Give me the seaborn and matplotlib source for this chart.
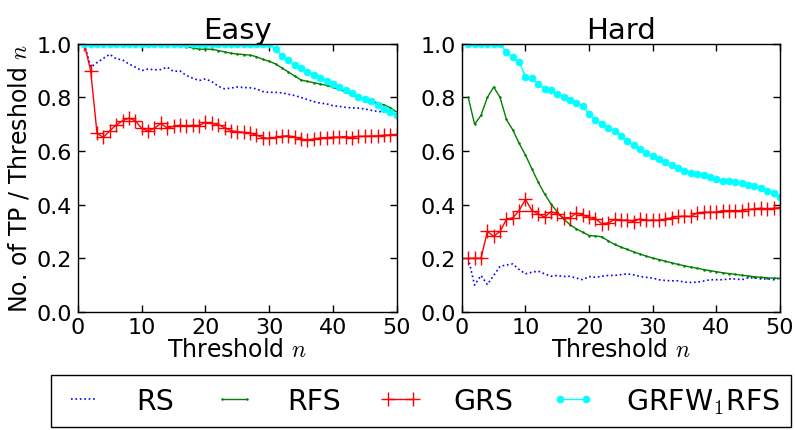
import numpy as np
import pandas as pd
import seaborn as sns
import matplotlib
matplotlib.use("Agg")
import matplotlib.pyplot as plt

# Threshold values n = 1..50
thresholds = list(range(1, 51))

# ---- Easy queries ----
easy_rs = [1.0, 0.913, 0.93, 0.946, 0.961, 0.944, 0.94, 0.925, 0.913, 0.90,
           0.906, 0.903, 0.904, 0.913, 0.897, 0.899, 0.882, 0.872, 0.863, 0.869,
           0.859, 0.842, 0.832, 0.835, 0.839, 0.837, 0.836, 0.832, 0.822, 0.819,
           0.819, 0.817, 0.812, 0.807, 0.80, 0.792, 0.784, 0.779, 0.776, 0.769,
           0.767, 0.763, 0.761, 0.76, 0.757, 0.752, 0.748, 0.746, 0.745, 0.743]
easy_rfs = [1.0, 1.0, 1.0, 1.0, 1.0, 1.0, 1.0, 1.0, 1.0, 1.0,
            1.0, 1.0, 1.0, 1.0, 1.0, 1.0, 0.99, 0.985, 0.98, 0.98,
            0.98, 0.975, 0.97, 0.965, 0.962, 0.96, 0.958, 0.952, 0.942, 0.935,
            0.925, 0.91, 0.895, 0.88, 0.865, 0.86, 0.855, 0.85, 0.845, 0.838,
            0.83, 0.82, 0.81, 0.80, 0.793, 0.786, 0.78, 0.772, 0.762, 0.745]
easy_grs = [1.0, 0.90, 0.666, 0.651, 0.676, 0.697, 0.713, 0.723, 0.713, 0.685,
            0.675, 0.685, 0.703, 0.686, 0.692, 0.696, 0.692, 0.696, 0.695, 0.707,
            0.703, 0.699, 0.687, 0.676, 0.672, 0.670, 0.667, 0.660, 0.650, 0.647,
            0.651, 0.655, 0.657, 0.652, 0.645, 0.641, 0.645, 0.649, 0.650, 0.652,
            0.652, 0.654, 0.650, 0.655, 0.655, 0.656, 0.657, 0.659, 0.660, 0.662]
easy_grfw = [1.0, 1.0, 1.0, 1.0, 1.0, 1.0, 1.0, 1.0, 1.0, 1.0,
             1.0, 1.0, 1.0, 1.0, 1.0, 1.0, 1.0, 1.0, 1.0, 1.0,
             1.0, 1.0, 1.0, 1.0, 1.0, 1.0, 1.0, 1.0, 1.0, 1.0,
             0.979, 0.956, 0.938, 0.921, 0.909, 0.896, 0.884, 0.872, 0.863, 0.851,
             0.838, 0.828, 0.816, 0.803, 0.795, 0.785, 0.772, 0.757, 0.745, 0.735]

# ---- Hard queries ----
hard_rs = [0.2, 0.10, 0.136, 0.102, 0.136, 0.17, 0.175, 0.179, 0.158, 0.142,
           0.148, 0.152, 0.142, 0.133, 0.136, 0.132, 0.133, 0.126, 0.12, 0.132,
           0.129, 0.133, 0.136, 0.136, 0.139, 0.142, 0.138, 0.132, 0.129, 0.126,
           0.12, 0.117, 0.116, 0.116, 0.111, 0.11, 0.111, 0.115, 0.12, 0.12,
           0.12, 0.123, 0.123, 0.12, 0.127, 0.127, 0.123, 0.123, 0.12, 0.126]
hard_rfs = [0.80, 0.70, 0.733, 0.80, 0.839, 0.80, 0.718, 0.679, 0.629, 0.585,
            0.534, 0.484, 0.44, 0.403, 0.372, 0.347, 0.325, 0.31, 0.297, 0.285,
            0.283, 0.28, 0.265, 0.252, 0.242, 0.233, 0.224, 0.216, 0.208, 0.201,
            0.195, 0.189, 0.183, 0.177, 0.172, 0.167, 0.163, 0.158, 0.154, 0.150,
            0.146, 0.143, 0.140, 0.137, 0.134, 0.131, 0.129, 0.127, 0.126, 0.125]
hard_grs = [0.2, 0.2, 0.2, 0.3, 0.282, 0.3, 0.345, 0.351, 0.378, 0.42,
            0.378, 0.366, 0.353, 0.374, 0.366, 0.351, 0.351, 0.369, 0.362, 0.353,
            0.347, 0.329, 0.332, 0.345, 0.341, 0.343, 0.337, 0.347, 0.341, 0.343,
            0.341, 0.347, 0.351, 0.356, 0.357, 0.356, 0.369, 0.372, 0.372, 0.372,
            0.378, 0.378, 0.378, 0.378, 0.382, 0.384, 0.387, 0.384, 0.387, 0.389]
hard_grfw = [1.0, 1.0, 1.0, 1.0, 1.0, 1.0, 0.969, 0.95, 0.931, 0.878,
             0.872, 0.851, 0.832, 0.828, 0.813, 0.801, 0.789, 0.780, 0.767, 0.739,
             0.717, 0.701, 0.686, 0.676, 0.657, 0.639, 0.623, 0.608, 0.593, 0.582,
             0.570, 0.558, 0.547, 0.538, 0.527, 0.518, 0.514, 0.511, 0.503, 0.496,
             0.490, 0.487, 0.484, 0.481, 0.475, 0.471, 0.461, 0.452, 0.442, 0.430]

method_labels = ["RS", "RFS", "GRS", r"GRFW$_1$RFS"]
panel_titles = ["Easy", "Hard"]
x_ticks = [0, 10, 20, 30, 40, 50]
y_ticks = [0.0, 0.2, 0.4, 0.6, 0.8, 1.0]

sns.set_style("ticks", {"xtick.direction": "in", "ytick.direction": "in"})
plt.rcParams.update({
    "font.family": ["DejaVu Sans"],
    "mathtext.fontset": "cm",
    "xtick.top": True,
    "ytick.right": True,
    "xtick.major.size": 5,
    "ytick.major.size": 5,
    "axes.linewidth": 1.0,
    "axes.edgecolor": "black",
    "text.color": "black",
    "axes.labelcolor": "black",
    "xtick.color": "black",
    "ytick.color": "black",
})

styles = [
    dict(color="b", linestyle=":", linewidth=1.2),
    dict(color="g", linestyle="-", linewidth=1.0, marker=".", markersize=2,
         markeredgecolor="g"),
    dict(color="r", linestyle="-", linewidth=1.0, marker="+", markersize=10,
         markeredgecolor="r", markeredgewidth=1.0),
    dict(color="cyan", linestyle="-", linewidth=1.0, marker="o", markersize=5,
         markeredgecolor="cyan", markeredgewidth=0.5),
]

fig = plt.figure(figsize=(7.95, 4.31), dpi=100)
ax_easy = fig.add_axes([0.098, 0.274, 0.401, 0.622])
ax_hard = fig.add_axes([0.581, 0.274, 0.400, 0.622])

panels = [
    (ax_easy, [easy_rs, easy_rfs, easy_grs, easy_grfw]),
    (ax_hard, [hard_rs, hard_rfs, hard_grs, hard_grfw]),
]

for (ax, series), title in zip(panels, panel_titles):
    for vals, lab, st in zip(series, method_labels, styles):
        df = pd.DataFrame({"n": thresholds, "v": vals})
        sns.lineplot(data=df, x="n", y="v", ax=ax, label=lab, **st)
    ax.set_xlim(0, 50)
    ax.set_ylim(0, 1.0)
    ax.set_xticks(x_ticks)
    ax.set_yticks(y_ticks)
    ax.set_yticklabels([f"{t:.1f}" for t in y_ticks])
    ax.tick_params(labelsize=16, width=1, pad=4)
    ax.set_title(title, fontsize=21, pad=4)
    ax.set_xlabel(r"Threshold $n$", fontsize=17, labelpad=0)
    ax.set_ylabel("")
    handles, labels = ax.get_legend_handles_labels()
    ax.get_legend().remove()
    for side in ax.spines.values():
        side.set_visible(True)

ax_easy.set_ylabel(r"No. of TP / Threshold $n$", fontsize=17, labelpad=4)

fig.legend(handles, labels, loc="lower center", bbox_to_anchor=(0.53, 0.0),
           ncol=4, fontsize=20.5, frameon=True, fancybox=False, edgecolor="black",
           handlelength=1.5, handletextpad=1.1, columnspacing=1.35,
           borderpad=0.4, borderaxespad=0.1, numpoints=2, framealpha=1.0)

fig.savefig("out.png", dpi=100)
